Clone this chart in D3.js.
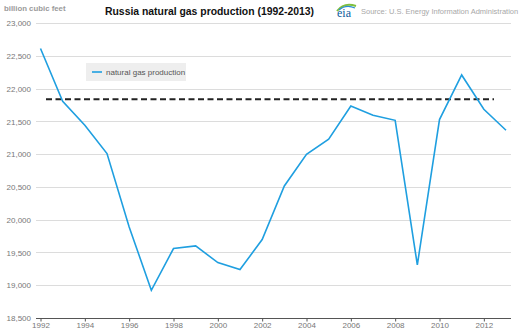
<!DOCTYPE html>
<html>
<head>
<meta charset="utf-8">
<script src="https://cdn.jsdelivr.net/npm/d3@7/dist/d3.min.js"></script>
<style>
  html, body { margin: 0; padding: 0; background: #fff; }
  svg { display: block; font-family: "Liberation Sans", Arial, sans-serif; }
</style>
</head>
<body>
<svg id="chart" width="520" height="330"></svg>
<script>
// Annual Russian natural gas production, billion cubic feet
const years = [1992, 1993, 1994, 1995, 1996, 1997, 1998, 1999, 2000, 2001, 2002,
               2003, 2004, 2005, 2006, 2007, 2008, 2009, 2010, 2011, 2012, 2013];
const production = [22613, 21808, 21442, 21010, 19890, 18923, 19560, 19600, 19346, 19239, 19697,
                    20515, 21000, 21228, 21737, 21594, 21518, 19310, 21529, 22210, 21686, 21366];
const referenceLevel = 21840;
const yTicks = [18500, 19000, 19500, 20000, 20500, 21000, 21500, 22000, 22500, 23000];
const xTicks = [1992, 1994, 1996, 1998, 2000, 2002, 2004, 2006, 2008, 2010, 2012];

const svg = d3.select("#chart");

const x = d3.scaleLinear().domain([1992, 2013]).range([40.5, 506]);
const y = d3.scaleLinear().domain([18500, 23000]).range([318, 23.2]);
const plotLeft = 36, plotRight = 511;

// horizontal gridlines
svg.append("g")
  .selectAll("line")
  .data(yTicks.filter(d => d !== 18500))
  .join("line")
  .attr("x1", plotLeft).attr("x2", plotRight)
  .attr("y1", d => Math.round(y(d)) + 0.5).attr("y2", d => Math.round(y(d)) + 0.5)
  .attr("stroke", "#dcdcdc").attr("stroke-width", 1.2);

// y axis labels
const yAxis = d3.axisLeft(y).tickValues(yTicks).tickSize(0).tickPadding(0)
  .tickFormat(d3.format(","));
svg.append("g")
  .attr("transform", "translate(31,0)")
  .call(yAxis)
  .call(g => g.select(".domain").remove())
  .call(g => g.selectAll("text")
    .attr("fill", "#777").attr("font-size", 8)
    .attr("font-family", "Liberation Sans, Arial, sans-serif"));

// x axis baseline with ticks
const xAxis = d3.axisBottom(x).tickValues(xTicks).tickSize(3).tickPadding(1)
  .tickFormat(d3.format("d"));
const xg = svg.append("g")
  .attr("transform", `translate(0,${Math.round(y(18500)) + 0.5})`)
  .call(xAxis);
xg.select(".domain").remove();
xg.insert("line", ":first-child")
  .attr("x1", plotLeft).attr("x2", plotRight)
  .attr("stroke", "#555").attr("stroke-width", 1.2);
xg.selectAll(".tick line").attr("stroke", "#555");
xg.selectAll("text")
  .attr("fill", "#777").attr("font-size", 8)
  .attr("font-family", "Liberation Sans, Arial, sans-serif");

// dashed reference level
svg.append("line")
  .attr("x1", 46).attr("x2", 494)
  .attr("y1", y(referenceLevel)).attr("y2", y(referenceLevel))
  .attr("stroke", "#222").attr("stroke-width", 2)
  .attr("stroke-dasharray", "6,3.5");

// production line
const line = d3.line().x((d, i) => x(years[i])).y(d => y(d));
svg.append("path")
  .datum(production)
  .attr("d", line)
  .attr("fill", "none")
  .attr("stroke", "#1f9fe0")
  .attr("stroke-width", 1.6)
  .attr("stroke-linejoin", "miter");

// legend
const legend = svg.append("g").attr("transform", "translate(86,63)");
legend.append("rect").attr("width", 100).attr("height", 18).attr("fill", "#eeeeee");
legend.append("line").attr("x1", 6).attr("x2", 16).attr("y1", 9).attr("y2", 9)
  .attr("stroke", "#1f9fe0").attr("stroke-width", 1.6);
legend.append("text").attr("x", 20).attr("y", 12)
  .attr("font-size", 8).attr("fill", "#555")
  .text("natural gas production");

// unit label
svg.append("text").attr("x", 4).attr("y", 11)
  .attr("font-size", 7.8).attr("font-weight", "bold").attr("fill", "#9a9a9a")
  .text("billion cubic feet");

// title
svg.append("text").attr("x", 105).attr("y", 15)
  .attr("font-size", 10.4).attr("font-weight", "bold").attr("fill", "#111")
  .text("Russia natural gas production (1992-2013)");

// eia mark
const logo = svg.append("g").attr("transform", "translate(336,3)");
logo.append("path").attr("d", "M1,8 Q8,-1 20,3").attr("fill", "none")
  .attr("stroke", "#7fbf3f").attr("stroke-width", 2);
logo.append("path").attr("d", "M3,7 Q10,1 19,5").attr("fill", "none")
  .attr("stroke", "#2a8ed0").attr("stroke-width", 1.2);
logo.append("text").attr("x", 1).attr("y", 14)
  .attr("font-family", "Liberation Serif, serif").attr("font-size", 12)
  .attr("fill", "#0a5a9a").text("eia");

// source
svg.append("text").attr("x", 361).attr("y", 14)
  .attr("font-size", 7.5).attr("fill", "#a8a8a8")
  .text("Source: U.S. Energy Information Administration");
</script>
</body>
</html>
